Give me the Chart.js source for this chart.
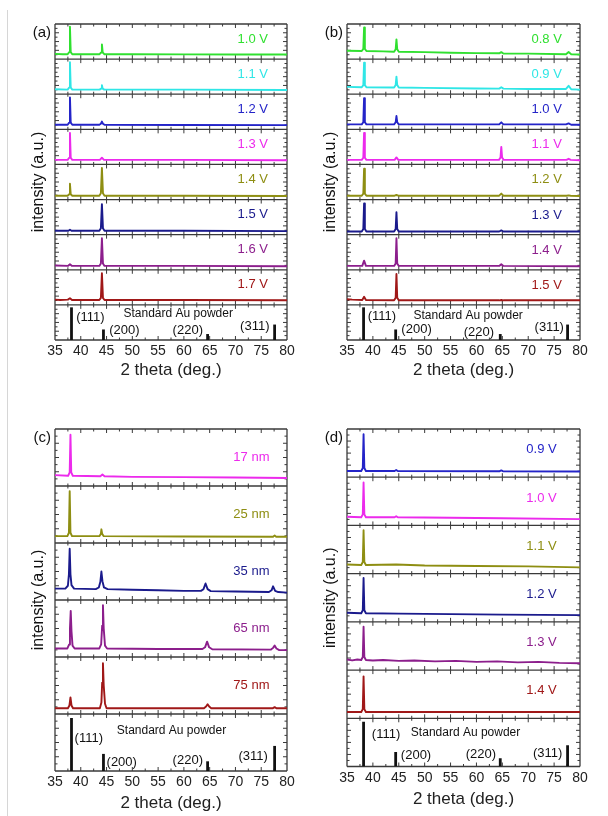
<!DOCTYPE html>
<html><head><meta charset="utf-8">
<script src="https://cdn.jsdelivr.net/npm/chart.js@4.4.0/dist/chart.umd.min.js"></script>
<style>
html,body{margin:0;padding:0;background:#fff;}
body{width:608px;height:816px;position:relative;overflow:hidden;}
canvas{position:absolute;}
#edge{position:absolute;left:7px;top:10px;width:1px;height:806px;background:#d6d6d6;}
</style></head><body>
<div id="edge"></div>
<canvas id="ca" width="304" height="400" style="left:0;top:0;width:304px;height:400px"></canvas>
<canvas id="cb" width="304" height="400" style="left:304px;top:0;width:304px;height:400px"></canvas>
<canvas id="cc" width="304" height="411" style="left:0;top:405px;width:304px;height:411px"></canvas>
<canvas id="cd" width="304" height="411" style="left:304px;top:405px;width:304px;height:411px"></canvas>
<script>
// ---------- axis ticks ----------
const xTicks = [35, 40, 45, 50, 55, 60, 65, 70, 75, 80];

// ---------- standard Au powder reflections ----------
const stdPos = [38.2, 44.4, 64.6, 77.6];
const stdHeight = [0.93, 0.30, 0.17, 0.44];
const stdNames = ['(111)', '(200)', '(220)', '(311)'];
const stdTitle = 'Standard Au powder';

// ---------- panel (a) ----------
const aLabels = ['1.0 V', '1.1 V', '1.2 V', '1.3 V', '1.4 V', '1.5 V', '1.6 V', '1.7 V'];
const a_1_0V = [[35,0.15],[36.5,0.14],[37.45,0.14],[37.75,0.2],[37.9,0.92],[38.05,0.2],[38.35,0.14],[40,0.14],[43.65,0.14],[43.95,0.19],[44.1,0.42],[44.25,0.19],[44.55,0.14],[50,0.14],[60,0.135],[70,0.13],[80,0.13]];
const a_1_1V = [[35,0.14],[37.45,0.13],[37.75,0.19],[37.9,0.91],[38.05,0.19],[38.35,0.13],[43.65,0.13],[43.95,0.16],[44.1,0.26],[44.25,0.16],[44.55,0.13],[60,0.13],[80,0.12]];
const a_1_2V = [[35,0.13],[37.45,0.13],[37.75,0.19],[37.9,0.91],[38.05,0.19],[38.35,0.13],[43.6,0.13],[43.9,0.16],[44.1,0.22],[44.3,0.16],[44.6,0.13],[60,0.125],[80,0.12]];
const a_1_3V = [[35,0.13],[37.45,0.13],[37.75,0.19],[37.9,0.9],[38.05,0.19],[38.35,0.13],[43.7,0.13],[44.1,0.19],[44.5,0.13],[60,0.13],[80,0.12]];
const a_1_4V = [[35,0.11],[37.45,0.11],[37.75,0.15],[37.9,0.45],[38.05,0.15],[38.35,0.11],[43.6,0.11],[43.9,0.18],[44.1,0.9],[44.3,0.18],[44.6,0.11],[60,0.11],[80,0.1]];
const a_1_5V = [[35,0.11],[37.6,0.11],[37.9,0.14],[38.2,0.11],[43.6,0.11],[43.9,0.18],[44.1,0.87],[44.3,0.18],[44.6,0.11],[60,0.11],[80,0.1]];
const a_1_6V = [[35,0.12],[37.5,0.11],[37.9,0.16],[38.3,0.11],[43.6,0.11],[43.9,0.18],[44.1,0.9],[44.3,0.18],[44.6,0.11],[60,0.11],[80,0.1]];
const a_1_7V = [[35,0.15],[36,0.14],[37.5,0.15],[37.9,0.19],[38.3,0.14],[43.6,0.14],[43.9,0.2],[44.1,0.9],[44.3,0.2],[44.6,0.14],[60,0.14],[80,0.13]];

// ---------- panel (b) ----------
const bLabels = ['0.8 V', '0.9 V', '1.0 V', '1.1 V', '1.2 V', '1.3 V', '1.4 V', '1.5 V'];
const b_0_8V = [[35,0.24],[37.85,0.23],[38.15,0.29],[38.3,0.9],[38.45,0.29],[38.75,0.23],[42,0.22],[44.1,0.21],[44.4,0.28],[44.55,0.56],[44.7,0.28],[45,0.21],[50,0.2],[55,0.18],[60,0.17],[64.4,0.165],[64.8,0.2],[65.2,0.16],[70,0.155],[77.3,0.14],[77.8,0.2],[78.3,0.14],[80,0.13]];
const b_0_9V = [[35,0.21],[37.85,0.2],[38.15,0.26],[38.3,0.9],[38.45,0.26],[38.75,0.2],[44.1,0.19],[44.4,0.26],[44.55,0.5],[44.7,0.26],[45,0.19],[50,0.18],[60,0.165],[64.4,0.16],[64.8,0.2],[65.2,0.16],[70,0.15],[77.3,0.15],[77.8,0.24],[78.3,0.14],[80,0.13]];
const b_1_0V = [[35,0.14],[37.85,0.14],[38.15,0.2],[38.3,0.89],[38.45,0.2],[38.75,0.14],[44.1,0.14],[44.4,0.2],[44.55,0.38],[44.7,0.2],[45,0.14],[60,0.14],[64.4,0.14],[64.8,0.2],[65.2,0.14],[77.3,0.14],[77.8,0.17],[78.3,0.13],[80,0.13]];
const b_1_1V = [[35,0.13],[37.85,0.13],[38.15,0.19],[38.3,0.9],[38.45,0.19],[38.75,0.13],[44.2,0.13],[44.55,0.2],[44.9,0.13],[64.35,0.13],[64.65,0.2],[64.8,0.5],[64.95,0.2],[65.25,0.13],[77.4,0.13],[77.8,0.16],[78.2,0.13],[80,0.12]];
const b_1_2V = [[35,0.11],[37.85,0.11],[38.15,0.17],[38.3,0.88],[38.45,0.17],[38.75,0.11],[44.2,0.11],[44.55,0.13],[44.9,0.11],[64.4,0.11],[64.8,0.17],[65.2,0.11],[77.4,0.11],[77.8,0.12],[78.2,0.11],[80,0.1]];
const b_1_3V = [[35,0.09],[37.85,0.09],[38.15,0.16],[38.3,0.89],[38.45,0.16],[38.75,0.09],[44.1,0.09],[44.4,0.16],[44.55,0.64],[44.7,0.16],[45,0.09],[64.4,0.09],[64.8,0.12],[65.2,0.09],[80,0.09]];
const b_1_4V = [[35,0.11],[37.95,0.11],[38.3,0.26],[38.65,0.11],[44.1,0.11],[44.4,0.18],[44.55,0.9],[44.7,0.18],[45,0.11],[64.4,0.11],[64.8,0.16],[65.2,0.11],[80,0.1]];
const b_1_5V = [[35,0.16],[36,0.15],[37.95,0.14],[38.3,0.23],[38.65,0.14],[44.1,0.13],[44.4,0.2],[44.55,0.88],[44.7,0.2],[45,0.13],[64.4,0.13],[64.8,0.14],[65.2,0.13],[80,0.13]];

// ---------- panel (c) ----------
const cLabels = ['17 nm', '25 nm', '35 nm', '65 nm', '75 nm'];
const c_17nm = [[35,0.19],[37.55,0.18],[37.85,0.24],[38.0,0.9],[38.15,0.24],[38.45,0.18],[43.8,0.17],[44.2,0.2],[44.6,0.17],[50,0.16],[60,0.155],[70,0.15],[80,0.14]];
const c_25nm = [[35,0.12],[37.4,0.12],[37.7,0.18],[37.85,0.91],[38.0,0.18],[38.3,0.12],[43.6,0.12],[43.9,0.16],[44.0,0.24],[44.15,0.16],[44.45,0.12],[60,0.115],[77.3,0.11],[77.6,0.13],[77.9,0.11],[80,0.11]];
const c_35nm = [[35,0.2],[37.0,0.2],[37.5,0.25],[37.7,0.45],[37.85,0.9],[38.0,0.45],[38.2,0.26],[38.7,0.2],[42.9,0.19],[43.5,0.22],[43.8,0.32],[44.0,0.5],[44.2,0.33],[44.5,0.22],[45.2,0.19],[50,0.18],[55,0.17],[60,0.16],[63.3,0.16],[63.8,0.19],[64.2,0.29],[64.6,0.19],[65.2,0.155],[70,0.15],[76.5,0.14],[77.0,0.17],[77.3,0.24],[77.7,0.16],[78.3,0.14],[80,0.13]];
const c_65nm = [[35,0.15],[37.4,0.15],[37.75,0.22],[37.9,0.5],[38.05,0.81],[38.2,0.45],[38.4,0.2],[38.8,0.15],[43.6,0.15],[43.95,0.22],[44.15,0.55],[44.3,0.91],[44.45,0.5],[44.7,0.2],[45.1,0.15],[55,0.14],[63.6,0.14],[64.1,0.17],[64.5,0.27],[64.9,0.17],[65.5,0.135],[76.9,0.13],[77.3,0.16],[77.6,0.2],[77.95,0.15],[78.5,0.12],[80,0.12]];
const c_75nm = [[35,0.1],[37.5,0.1],[37.8,0.15],[38.0,0.29],[38.2,0.15],[38.5,0.1],[43.7,0.1],[44.0,0.2],[44.15,0.55],[44.3,0.89],[44.45,0.5],[44.7,0.18],[45.0,0.1],[63.9,0.1],[64.3,0.13],[64.6,0.17],[64.9,0.13],[65.3,0.1],[77.2,0.1],[77.6,0.12],[78,0.1],[80,0.1]];

// ---------- panel (d) ----------
const dLabels = ['0.9 V', '1.0 V', '1.1 V', '1.2 V', '1.3 V', '1.4 V'];
const d_0_9V = [[35,0.13],[37.75,0.13],[38.05,0.19],[38.2,0.89],[38.35,0.19],[38.65,0.13],[44.2,0.13],[44.5,0.15],[44.8,0.13],[64.5,0.125],[64.8,0.14],[65.1,0.125],[80,0.12]];
const d_1_0V = [[35,0.18],[37.75,0.17],[38.05,0.23],[38.2,0.89],[38.35,0.23],[38.65,0.17],[44.2,0.17],[44.5,0.19],[44.8,0.17],[55,0.16],[65,0.15],[80,0.13]];
const d_1_1V = [[35,0.19],[37.75,0.18],[38.05,0.24],[38.2,0.9],[38.35,0.24],[38.65,0.18],[44.5,0.19],[50,0.17],[60,0.16],[70,0.15],[80,0.13]];
const d_1_2V = [[35,0.19],[37.75,0.18],[38.05,0.24],[38.2,0.91],[38.35,0.24],[38.65,0.18],[45,0.17],[55,0.16],[65,0.15],[80,0.14]];
const d_1_3V = [[35,0.22],[36,0.2],[37,0.22],[37.75,0.21],[38.05,0.27],[38.2,0.9],[38.35,0.27],[38.65,0.21],[40,0.2],[42,0.21],[45,0.19],[48,0.2],[52,0.18],[56,0.19],[60,0.17],[64,0.18],[68,0.16],[72,0.17],[76,0.15],[80,0.14]];
const d_1_4V = [[35,0.13],[37.75,0.13],[38.05,0.19],[38.2,0.87],[38.35,0.19],[38.65,0.13],[60,0.13],[80,0.13]];

// ---------- colours ----------
const GREEN='#30e030', CYAN='#30e6e6', BLUE='#2424c8', MAGENTA='#ec2aec', OLIVE='#8e8e12', NAVY='#1a1a8c', PURPLE='#8c1e8c', WINE='#a01818';

const FONT = '"Liberation Sans", Arial, sans-serif';
Chart.defaults.font.family = FONT;

const panels = [
  { id:'ca', letter:'(a)', series:[a_1_0V,a_1_1V,a_1_2V,a_1_3V,a_1_4V,a_1_5V,a_1_6V,a_1_7V], labels:aLabels,
    colors:[GREEN,CYAN,BLUE,MAGENTA,OLIVE,NAVY,PURPLE,WINE],
    pad:{left:55,right:17,top:24,bottom:19}, axisH:41, labelX:76.3, labelY:0.57,
    std:{t:[58.9,0.75], s111:[39.1,0.64], s200:[45.5,0.28], s220:[63.7,0.28], s311:[76.6,0.39]} },
  { id:'cb', letter:'(b)', series:[b_0_8V,b_0_9V,b_1_0V,b_1_1V,b_1_2V,b_1_3V,b_1_4V,b_1_5V], labels:bLabels,
    colors:[GREEN,CYAN,BLUE,MAGENTA,OLIVE,NAVY,PURPLE,WINE],
    pad:{left:43,right:28,top:24,bottom:19}, axisH:41, labelX:76.5, labelY:0.56,
    std:{t:[58.4,0.69], s111:[39.0,0.67], s200:[45.5,0.31], s220:[63.4,0.23], s311:[76.9,0.37]} },
  { id:'cc', letter:'(c)', series:[c_17nm,c_25nm,c_35nm,c_65nm,c_75nm], labels:cLabels,
    colors:[MAGENTA,OLIVE,NAVY,PURPLE,WINE],
    pad:{left:55,right:17,top:24,bottom:2}, axisH:43, labelX:76.6, labelY:0.51,
    std:{t:[57.6,0.7], s111:[38.8,0.58], s200:[45.0,0.15], s220:[63.7,0.18], s311:[76.3,0.25]} },
  { id:'cd', letter:'(d)', series:[d_0_9V,d_1_0V,d_1_1V,d_1_2V,d_1_3V,d_1_4V], labels:dLabels,
    colors:[BLUE,MAGENTA,OLIVE,NAVY,PURPLE,WINE],
    pad:{left:43,right:28,top:24,bottom:6.5}, axisH:43, labelX:75.5, labelY:0.57,
    std:{t:[57.9,0.7], s111:[39.8,0.66], s200:[45.4,0.23], s220:[63.8,0.26], s311:[76.6,0.27]} }
];

const yTickFrac = [0.125,0.25,0.375,0.5,0.625,0.75,0.875];

function makeFramePlugin(p, N) {
  return {
    id: 'frame_' + p.id,
    beforeDatasetsDraw(chart) {
      const {ctx, chartArea:a, scales:{x, y}} = chart;
      ctx.save();
      ctx.strokeStyle = '#3a3a3a';
      ctx.lineWidth = 1.3;
      for (let k = 0; k <= N; k++) {
        const yy = y.getPixelForValue(k);
        ctx.beginPath(); ctx.moveTo(a.left, yy); ctx.lineTo(a.right, yy); ctx.stroke();
      }
      ctx.beginPath(); ctx.moveTo(a.left, a.top); ctx.lineTo(a.left, a.bottom); ctx.stroke();
      ctx.beginPath(); ctx.moveTo(a.right, a.top); ctx.lineTo(a.right, a.bottom); ctx.stroke();
      ctx.lineWidth = 1;
      const xt = [];
      for (let i = 0; i < xTicks.length - 1; i++) {
        if (i > 0) xt.push([xTicks[i], 4]);
        xt.push([(xTicks[i] + xTicks[i+1]) / 2, 2.5]);
      }
      for (let k = 0; k < N; k++) {
        const yb = y.getPixelForValue(k), ytp = y.getPixelForValue(k + 1);
        xt.forEach(([v, len]) => {
          const xx = x.getPixelForValue(v);
          ctx.beginPath(); ctx.moveTo(xx, yb); ctx.lineTo(xx, yb - len); ctx.stroke();
          ctx.beginPath(); ctx.moveTo(xx, ytp); ctx.lineTo(xx, ytp + len); ctx.stroke();
        });
        yTickFrac.forEach((f, j) => {
          const yy = y.getPixelForValue(k + f);
          const len = (j % 2 === 1) ? 4 : 2.5;
          ctx.beginPath(); ctx.moveTo(a.left, yy); ctx.lineTo(a.left + len, yy); ctx.stroke();
          ctx.beginPath(); ctx.moveTo(a.right, yy); ctx.lineTo(a.right - len, yy); ctx.stroke();
        });
      }
      ctx.restore();
    },
    afterDatasetsDraw(chart) {
      const {ctx, chartArea:a, scales:{x, y}} = chart;
      ctx.save();
      ctx.font = '13px ' + FONT;
      ctx.textAlign = 'right'; ctx.textBaseline = 'middle';
      p.labels.forEach((lab, i) => {
        ctx.fillStyle = p.colors[i];
        ctx.fillText(lab, x.getPixelForValue(p.labelX), y.getPixelForValue(N - 1 - i + p.labelY));
      });
      ctx.fillStyle = '#111';
      ctx.font = '12px ' + FONT;
      ctx.textAlign = 'center';
      ctx.fillText(stdTitle, x.getPixelForValue(p.std.t[0]), y.getPixelForValue(p.std.t[1]));
      ctx.font = '13px ' + FONT;
      ctx.textAlign = 'left';
      ctx.fillText(stdNames[0], x.getPixelForValue(p.std.s111[0]), y.getPixelForValue(p.std.s111[1]));
      ctx.fillText(stdNames[1], x.getPixelForValue(p.std.s200[0]), y.getPixelForValue(p.std.s200[1]));
      ctx.textAlign = 'right';
      ctx.fillText(stdNames[2], x.getPixelForValue(p.std.s220[0]), y.getPixelForValue(p.std.s220[1]));
      ctx.fillText(stdNames[3], x.getPixelForValue(p.std.s311[0]), y.getPixelForValue(p.std.s311[1]));
      ctx.font = '15px ' + FONT;
      ctx.textAlign = 'right';
      ctx.fillText(p.letter, a.left - 4, a.top + 9);
      ctx.font = '16px ' + FONT;
      ctx.translate(a.left - 16, (a.top + a.bottom) / 2);
      ctx.rotate(-Math.PI / 2);
      ctx.textAlign = 'center';
      ctx.fillText('intensity (a.u.)', 0, 0);
      ctx.restore();
    }
  };
}

panels.forEach(p => {
  const N = p.series.length + 1;
  const datasets = p.series.map((arr, i) => ({
    data: arr.map(([xv, v]) => ({x: xv, y: v + (N - 1 - i)})),
    borderColor: p.colors[i], borderWidth: 1.9, pointRadius: 0, fill: false,
    borderJoinStyle: 'round'
  }));
  stdPos.forEach((pos, j) => {
    datasets.push({ data: [{x: pos, y: 0}, {x: pos, y: stdHeight[j]}],
      borderColor: '#111', borderWidth: 2.8, pointRadius: 0, fill: false, borderCapStyle: 'butt' });
  });
  new Chart(document.getElementById(p.id), {
    type: 'line',
    data: { datasets },
    options: {
      responsive: false, animation: false, devicePixelRatio: 1,
      layout: { padding: p.pad },
      plugins: { legend: { display: false }, tooltip: { enabled: false } },
      elements: { line: { tension: 0 } },
      scales: {
        x: {
          type: 'linear', min: 35, max: 80,
          afterBuildTicks: (s) => { s.ticks = xTicks.map(v => ({value: v})); },
          afterFit: (s) => { s.height = p.axisH; },
          ticks: { font: { size: 14 }, color: '#222', padding: 3, maxRotation: 0, autoSkip: false },
          grid: { display: false, drawTicks: false },
          border: { display: false },
          title: { display: true, text: '2 theta (deg.)', font: { size: 17 }, color: '#222', padding: 0 }
        },
        y: { type: 'linear', min: 0, max: N, display: false }
      }
    },
    plugins: [makeFramePlugin(p, N)]
  });
});
</script>
</body></html>
